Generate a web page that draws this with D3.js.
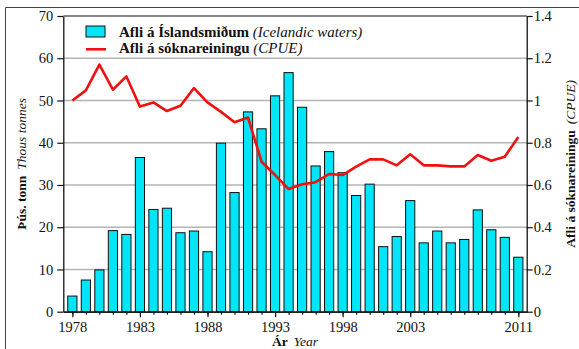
<!DOCTYPE html>
<html>
<head>
<meta charset="utf-8">
<script src="https://cdn.jsdelivr.net/npm/d3@7/dist/d3.min.js"></script>
<style>
  html, body { margin: 0; padding: 0; background: #fff; }
  svg { display: block; }
  text { font-family: "Liberation Serif", "Times New Roman", "DejaVu Serif", serif; fill: #111; }
</style>
</head>
<body>
<svg id="chart" width="579" height="349"></svg>
<script>
// Catch in Icelandic waters (thousand tonnes) and catch per unit effort
const years = d3.range(1978, 2012);
const catchThous = [
  3.7, 7.5, 9.9, 19.2, 18.3, 36.5, 24.2, 24.5, 18.7, 19.1,
  14.2, 39.9, 28.2, 47.3, 43.3, 51.1, 56.6, 48.4, 34.5, 37.9,
  32.9, 27.5, 30.2, 15.4, 17.8, 26.3, 16.3, 19.1, 16.3, 17.1,
  24.1, 19.4, 17.6, 12.9
];
const cpue = [
  1.00, 1.048, 1.17, 1.051, 1.114, 0.971, 0.991, 0.950, 0.975, 1.059,
  0.991, 0.946, 0.897, 0.919, 0.710, 0.647, 0.581, 0.603, 0.613, 0.652,
  0.647, 0.687, 0.721, 0.721, 0.693, 0.745, 0.693, 0.693, 0.688, 0.688,
  0.742, 0.715, 0.734, 0.827
];
const leftTicks = [0, 10, 20, 30, 40, 50, 60, 70];
const rightTicks = [0, 0.2, 0.4, 0.6, 0.8, 1, 1.2, 1.4];
const yearLabels = [1978, 1983, 1988, 1993, 1998, 2003, 2011];

const svg = d3.select("#chart");
const plot = { left: 63.3, right: 526.7, top: 16, bottom: 311.7 };

const x = d3.scaleLinear().domain([1977.33, 2011.62]).range([plot.left, plot.right]);
const yL = d3.scaleLinear().domain([0, 70]).range([plot.bottom, plot.top]);
const yR = d3.scaleLinear().domain([0, 1.4]).range([plot.bottom, plot.top]);

// outer frame
svg.append("path")
  .attr("d", `M5.5,349 V7.5 H579`)
  .attr("fill", "none").attr("stroke", "#444").attr("stroke-width", 1);

// gridlines
svg.append("g").selectAll("line")
  .data(leftTicks.filter(d => d > 0 && d < 70))
  .join("line")
  .attr("x1", plot.left).attr("x2", plot.right)
  .attr("y1", d => yL(d)).attr("y2", d => yL(d))
  .attr("stroke", "#b4b4b4").attr("stroke-width", 1.5);

// bars
const barW = 9.2;
svg.append("g").selectAll("rect")
  .data(years.map((yr, i) => ({ yr, v: catchThous[i] })))
  .join("rect")
  .attr("x", d => x(d.yr) - barW / 2)
  .attr("width", barW)
  .attr("y", d => yL(d.v))
  .attr("height", d => yL(0) - yL(d.v))
  .attr("fill", "#00e5f7")
  .attr("stroke", "#111").attr("stroke-width", 1);

// CPUE line
svg.append("path")
  .datum(years.map((yr, i) => [yr, cpue[i]]))
  .attr("d", d3.line().x(d => x(d[0])).y(d => yR(d[1])))
  .attr("fill", "none").attr("stroke", "#f01010").attr("stroke-width", 2.6)
  .attr("stroke-linejoin", "round");

// top border of plot
svg.append("line")
  .attr("x1", plot.left).attr("x2", plot.right)
  .attr("y1", plot.top).attr("y2", plot.top)
  .attr("stroke", "#111").attr("stroke-width", 1.2);

const fontSize = "14.5px";

// left axis
const gL = svg.append("g").attr("transform", `translate(${plot.left},0)`)
  .call(d3.axisLeft(yL).tickValues(leftTicks).tickSize(6).tickSizeOuter(0).tickPadding(4));
// right axis
const gR = svg.append("g").attr("transform", `translate(${plot.right},0)`)
  .call(d3.axisRight(yR).tickValues(rightTicks).tickFormat(d => String(d))
    .tickSize(6).tickSizeOuter(0).tickPadding(1));
// bottom axis: minor ticks each year, labelled major ticks
const gBm = svg.append("g").attr("transform", `translate(0,${plot.bottom})`)
  .call(d3.axisBottom(x).tickValues(years).tickFormat("").tickSize(3).tickSizeOuter(0));
const gB = svg.append("g").attr("transform", `translate(0,${plot.bottom})`)
  .call(d3.axisBottom(x).tickValues(yearLabels).tickFormat(d3.format("d"))
    .tickSize(5.5).tickSizeOuter(0).tickPadding(4.5));

[gL, gR, gB, gBm].forEach(g => {
  g.selectAll("path.domain").attr("stroke", "#111").attr("stroke-width", 1.3);
  g.selectAll(".tick line").attr("stroke", "#111").attr("stroke-width", 1.2);
  g.selectAll("text").attr("font-family", null).style("font-size", fontSize).attr("fill", "#111");
});

// axis titles
const titleSize = "13.5px";
const tL = svg.append("text")
  .attr("transform", `translate(26,${(plot.top + plot.bottom) / 2}) rotate(-90)`)
  .attr("text-anchor", "middle").style("font-size", titleSize);
tL.append("tspan").attr("font-weight", "bold").text("Þús. tonn");
tL.append("tspan").attr("font-style", "italic").attr("dx", 6).text("Thous tonnes");

const tR = svg.append("text")
  .attr("transform", `translate(575,${(plot.top + plot.bottom) / 2}) rotate(-90)`)
  .attr("text-anchor", "middle").style("font-size", titleSize);
tR.append("tspan").attr("font-weight", "bold").text("Afli á sóknareiningu");
tR.append("tspan").attr("font-style", "italic").attr("dx", 6).text("(CPUE)");

const tX = svg.append("text")
  .attr("x", (plot.left + plot.right) / 2).attr("y", 345.5)
  .attr("text-anchor", "middle").style("font-size", titleSize);
tX.append("tspan").attr("font-weight", "bold").text("Ár");
tX.append("tspan").attr("font-style", "italic").attr("dx", 6).text("Year");

// legend
const legendSize = "15px";
const lg = svg.append("g");
lg.append("rect").attr("x", 86).attr("y", 26).attr("width", 19).attr("height", 11)
  .attr("fill", "#00e5f7").attr("stroke", "#111").attr("stroke-width", 1);
lg.append("line").attr("x1", 86).attr("x2", 106).attr("y1", 49.3).attr("y2", 49.3)
  .attr("stroke", "#f01010").attr("stroke-width", 2.6);
const l1 = lg.append("text").attr("x", 119).attr("y", 36.7).style("font-size", legendSize);
l1.append("tspan").attr("font-weight", "bold").text("Afli á Íslandsmiðum ");
l1.append("tspan").attr("font-style", "italic").text("(Icelandic waters)");
const l2 = lg.append("text").attr("x", 119).attr("y", 53.3).style("font-size", legendSize);
l2.append("tspan").attr("font-weight", "bold").text("Afli á sóknareiningu ");
l2.append("tspan").attr("font-style", "italic").text("(CPUE)");
</script>
</body>
</html>
